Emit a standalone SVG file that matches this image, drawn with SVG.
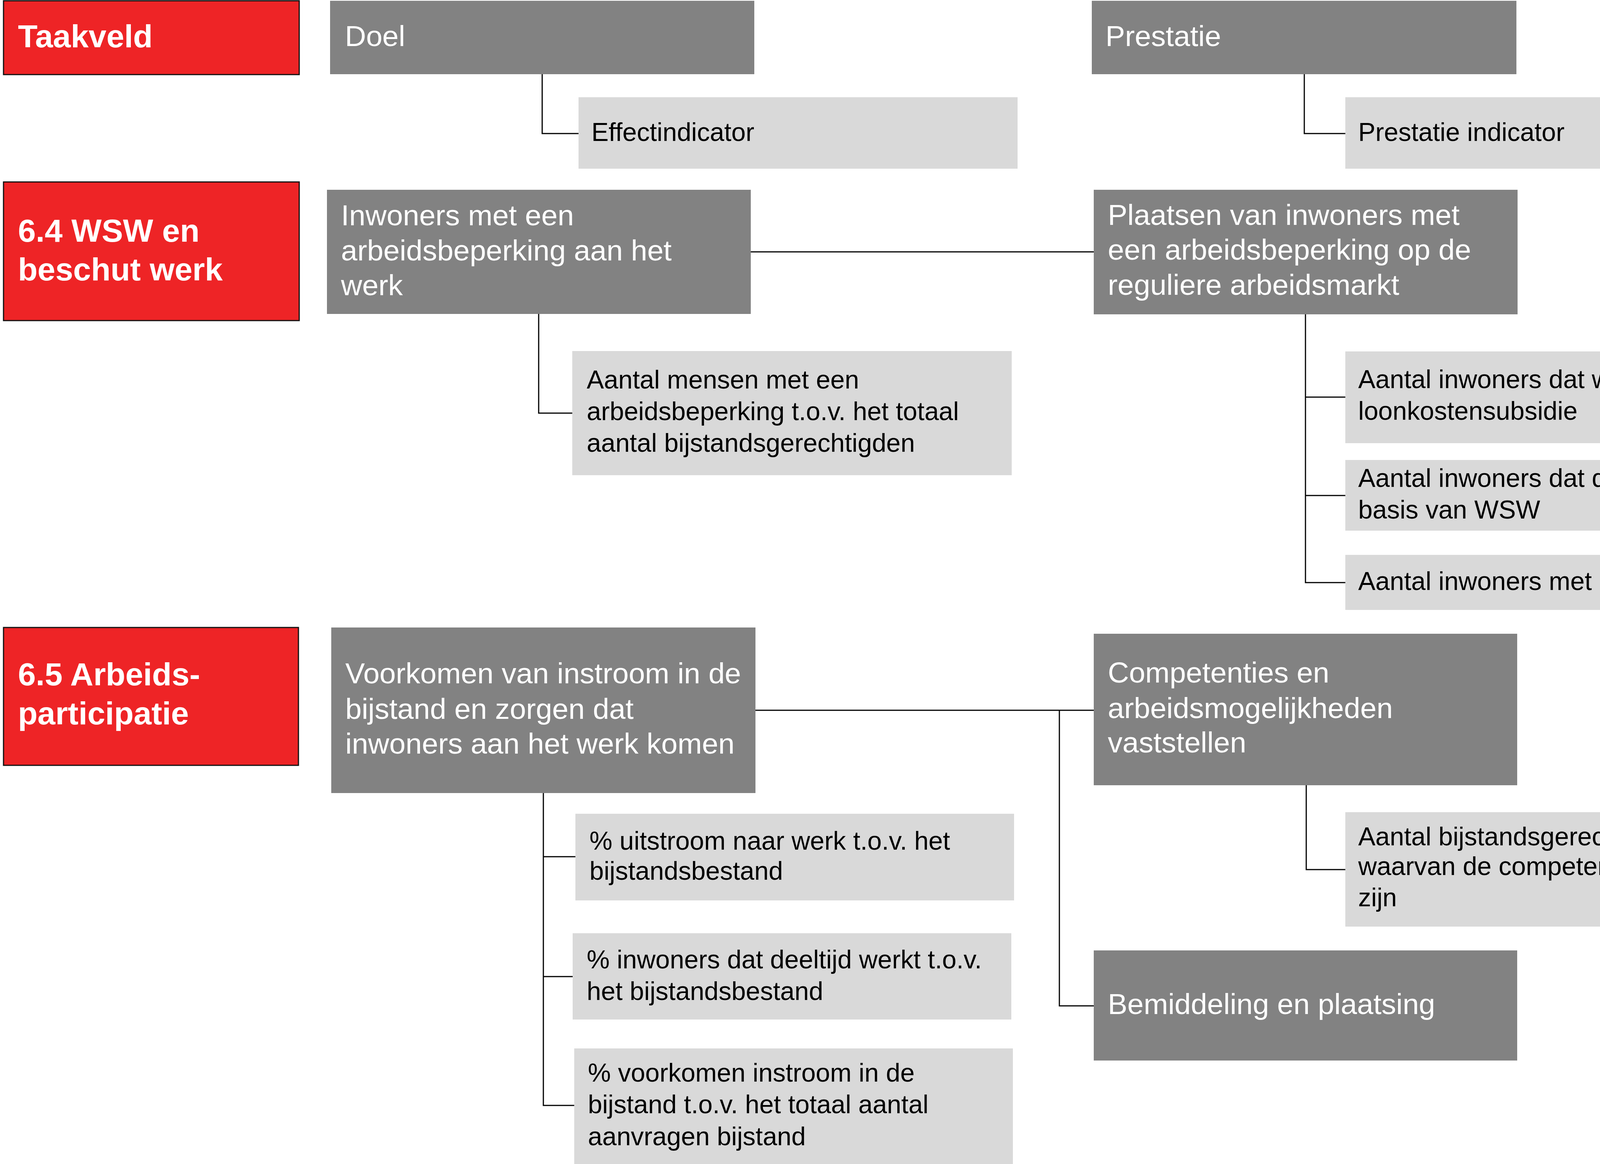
<svg xmlns="http://www.w3.org/2000/svg" width="4600" height="2981" viewBox="0 0 4600 2981">
<style>
.red{fill:#EE2426;stroke:#111;stroke-width:3}
.dark{fill:#828282}
.light{fill:#D9D9D9}
.tr{font-family:"Liberation Sans",Arial,sans-serif;font-weight:bold;font-size:82px;fill:#fff}
.tg{font-family:"Liberation Sans",Arial,sans-serif;font-size:75px;fill:#fff}
.tl{font-family:"Liberation Sans",Arial,sans-serif;font-size:66px;fill:#000}
.con{fill:none;stroke:#000;stroke-width:3}
</style>
<rect width="4600" height="2981" fill="#fff"/>
<g id="connectors">
<path class="con" d="M1388,190 V342 H1481"/>
<path class="con" d="M3339,190 V342 H3444"/>
<path class="con" d="M1922,645 H2800"/>
<path class="con" d="M1379,804 V1058 H1465"/>
<path class="con" d="M3342,805 V1492 H3444 M3342,1017 H3444 M3342,1269 H3444"/>
<path class="con" d="M1934,1819 H2800 M2712,1819 V2576 H2800"/>
<path class="con" d="M1391,2031 V2831 H1470 M1391,2194 H1473 M1391,2501 H1466"/>
<path class="con" d="M3344,2011 V2227 H3444"/>
</g>
<g id="taakveld"><rect class="red" x="9" y="2" width="757" height="189"/><text class="tr" x="46" y="121">Taakveld</text></g>
<g id="doel"><rect class="dark" x="845" y="2" width="1086" height="188"/><text class="tg" x="883" y="118">Doel</text></g>
<g id="prestatie"><rect class="dark" x="2795" y="2" width="1087" height="188"/><text class="tg" x="2830" y="118">Prestatie</text></g>
<g id="effectindicator"><rect class="light" x="1481" y="249" width="1124" height="183"/><text class="tl" x="1514" y="361">Effectindicator</text></g>
<g id="prestatie-indicator"><rect class="light" x="3444" y="249" width="1156" height="183"/><text class="tl" x="3477" y="361">Prestatie indicator</text></g>
<g id="wsw"><rect class="red" x="9" y="466" width="757" height="355"/><text class="tr" x="46" y="619">6.4 WSW en</text><text class="tr" x="46" y="718">beschut werk</text></g>
<g id="inwoners"><rect class="dark" x="837" y="486" width="1085" height="318"/><text class="tg" x="873" y="577">Inwoners met een</text><text class="tg" x="873" y="667">arbeidsbeperking aan het</text><text class="tg" x="873" y="756">werk</text></g>
<g id="plaatsen"><rect class="dark" x="2800" y="486" width="1085" height="319"/><text class="tg" x="2836" y="576">Plaatsen van inwoners met</text><text class="tg" x="2836" y="665">een arbeidsbeperking op de</text><text class="tg" x="2836" y="755">reguliere arbeidsmarkt</text></g>
<g id="aantal-mensen"><rect class="light" x="1465" y="899" width="1125" height="318"/><text class="tl" x="1502" y="995">Aantal mensen met een</text><text class="tl" x="1502" y="1076">arbeidsbeperking t.o.v. het totaal</text><text class="tl" x="1502" y="1157">aantal bijstandsgerechtigden</text></g>
<g id="loonkosten"><rect class="light" x="3444" y="900" width="1156" height="235"/><text class="tl" x="3477" y="994">Aantal inwoners dat werkt met</text><text class="tl" x="3477" y="1075">loonkostensubsidie</text></g>
<g id="wsw-deelname"><rect class="light" x="3444" y="1178" width="1156" height="181"/><text class="tl" x="3477" y="1247">Aantal inwoners dat deelneemt op</text><text class="tl" x="3477" y="1328">basis van WSW</text></g>
<g id="beschut"><rect class="light" x="3444" y="1421" width="1156" height="141"/><text class="tl" x="3477" y="1511">Aantal inwoners met beschut werk</text></g>
<g id="arbeidsparticipatie"><rect class="red" x="9" y="1607" width="755" height="353"/><text class="tr" x="46" y="1755">6.5 Arbeids-</text><text class="tr" x="46" y="1855">participatie</text></g>
<g id="voorkomen"><rect class="dark" x="848" y="1607" width="1086" height="424"/><text class="tg" x="884" y="1750">Voorkomen van instroom in de</text><text class="tg" x="884" y="1841">bijstand en zorgen dat</text><text class="tg" x="884" y="1930">inwoners aan het werk komen</text></g>
<g id="competenties"><rect class="dark" x="2800" y="1623" width="1084" height="388"/><text class="tg" x="2836" y="1748">Competenties en</text><text class="tg" x="2836" y="1839">arbeidsmogelijkheden</text><text class="tg" x="2836" y="1927">vaststellen</text></g>
<g id="bemiddeling"><rect class="dark" x="2800" y="2434" width="1084" height="282"/><text class="tg" x="2836" y="2597">Bemiddeling en plaatsing</text></g>
<g id="uitstroom"><rect class="light" x="1473" y="2084" width="1123" height="222"/><text class="tl" x="1509" y="2176">% uitstroom naar werk t.o.v. het</text><text class="tl" x="1509" y="2253">bijstandsbestand</text></g>
<g id="deeltijd"><rect class="light" x="1466" y="2390" width="1123" height="221"/><text class="tl" x="1502" y="2480">% inwoners dat deeltijd werkt t.o.v.</text><text class="tl" x="1502" y="2561">het bijstandsbestand</text></g>
<g id="voorkomen-instroom"><rect class="light" x="1470" y="2685" width="1123" height="296"/><text class="tl" x="1505" y="2770">% voorkomen instroom in de</text><text class="tl" x="1505" y="2851">bijstand t.o.v. het totaal aantal</text><text class="tl" x="1505" y="2933">aanvragen bijstand</text></g>
<g id="competenties-beeld"><rect class="light" x="3444" y="2080" width="1150" height="293"/><text class="tl" x="3477" y="2165">Aantal bijstandsgerechtigden</text><text class="tl" x="3477" y="2241">waarvan de competenties in beeld</text><text class="tl" x="3477" y="2321">zijn</text></g>
</svg>
